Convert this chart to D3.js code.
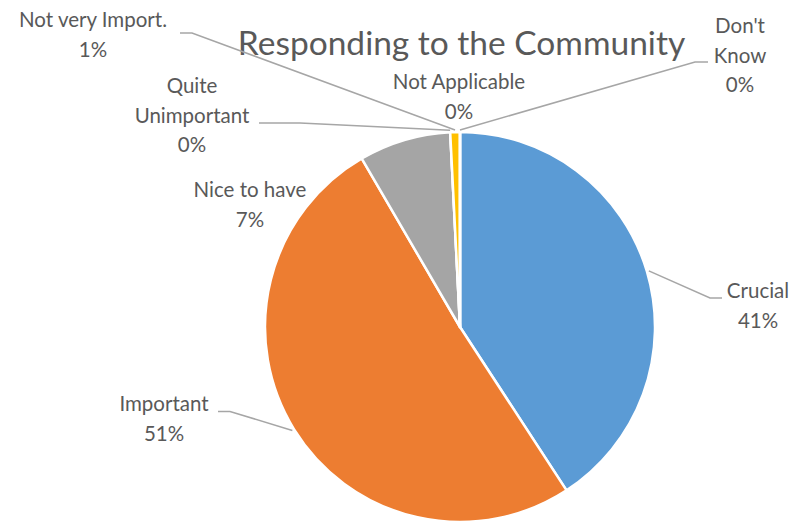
<!DOCTYPE html>
<html><head><meta charset="utf-8">
<script src="https://cdn.jsdelivr.net/npm/d3@7"></script>
<style>body{margin:0;background:#fff}svg{display:block}</style>
</head><body>
<svg id="c" width="795" height="522"></svg>
<script>
const categories = ["Crucial","Important","Nice to have","Quite Unimportant","Not very Import.","Not Applicable","Don't Know"];
const values = [40.8, 50.8, 7.6, 0, 0.8, 0, 0];
const pctLabels = ["41%","51%","7%","0%","1%","0%","0%"];
const colors = ["#5B9BD5","#ED7D31","#A5A5A5","#4472C4","#FFC000","#70AD47","#264478"];
const labelLines = [["Crucial"],["Important"],["Nice to have"],["Quite","Unimportant"],["Not very Import."],["Not Applicable"],["Don't","Know"]];

const svg = d3.select("#c");
const cx = 460, cy = 327, R = 195;
const font = "Lato, 'Open Sans', sans-serif";
const textColor = "#595959";

svg.append("text").attr("x", 461.5).attr("y", 55).attr("text-anchor","middle")
  .attr("font-family", font).attr("font-size", 33.5).attr("fill", textColor)
  .text("Responding to the Community");

const data = categories.map((c,i)=>({cat:c, v:values[i], pct:pctLabels[i], lines:labelLines[i], color:colors[i]}));
const pie = d3.pie().value(d=>d.v).sort(null);
const arcs = pie(data);
const arc = d3.arc().innerRadius(0).outerRadius(R);
const g = svg.append("g").attr("transform", `translate(${cx},${cy})`);
g.selectAll("path").data(arcs).join("path")
  .attr("d", arc).attr("fill", d=>d.data.color)
  .attr("stroke","#fff").attr("stroke-width",2.5).attr("stroke-linejoin","round");

// label layout: center x, first baseline y, leader elbow points
const labelPos = [
  {x:758, y:298, lead:[[722,298],[710,298]]},
  {x:164, y:411, lead:[[218,411.5],[230,411.5]]},
  {x:250, y:197, lead:null},
  {x:192, y:93, lead:[[259,123],[300,123]]},
  {x:93, y:27, lead:[[180,33],[192,33]]},
  {x:459, y:89, lead:null},
  {x:740, y:33, lead:[[708,62],[695,62]]}
];
const lh = 29.5;
arcs.forEach((a,i)=>{
  const p = labelPos[i];
  const t = svg.append("text").attr("text-anchor","middle").attr("font-family",font)
    .attr("font-size",20.5).attr("fill",textColor);
  const lines = a.data.lines.concat([a.data.pct]);
  lines.forEach((s,k)=>{
    t.append("tspan").attr("x",p.x).attr("y",p.y+k*lh).text(s);
  });
  if (p.lead) {
    const m = (a.startAngle + a.endAngle)/2;
    const ex = cx + (R+2)*Math.sin(m), ey = cy - (R+2)*Math.cos(m);
    const pts = [p.lead[0], p.lead[1], [ex, ey]];
    svg.append("path").attr("d", d3.line()(pts)).attr("fill","none")
      .attr("stroke","#A6A6A6").attr("stroke-width",1.5);
  }
});
</script>
</body></html>
